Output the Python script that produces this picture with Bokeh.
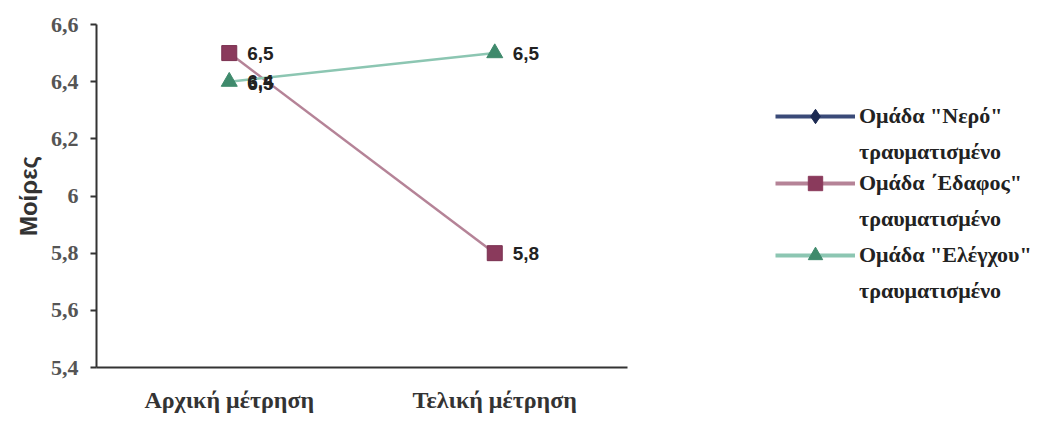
from bokeh.plotting import figure
from bokeh.layouts import row
from bokeh.models import (FactorRange, Range1d, FixedTicker, CustomJSTickFormatter,
                          Legend, LegendItem, ColumnDataSource)
from bokeh.core.properties import value
from bokeh.embed import file_html
from bokeh.resources import INLINE

categories = ["Αρχική μέτρηση", "Τελική μέτρηση"]
nero = [float("nan"), float("nan")]          # series not visible in the chart
edafos = [6.5, 5.8]
elegxou = [6.4, 6.5]
nero_stray_label = ["6,5", ""]               # stray label shown at control's first point
y_ticks = [5.4, 5.6, 5.8, 6.0, 6.2, 6.4, 6.6]
series_first = ['Ομάδα "Νερό"', 'Ομάδα ΄Εδαφος"', 'Ομάδα "Ελέγχου"']
series_second = ['τραυματισμένο', 'τραυματισμένο', 'τραυματισμένο']
line_colors = ["#3a4a78", "#b58397", "#8cc6b2"]
marker_colors = ["#1c2a52", "#8a3a5c", "#3f8a6c"]
markers = ["diamond", "square", "triangle"]

def fmt(v):
    return ("%.1f" % v).replace(".", ",")

H = 415
p = figure(x_range=FactorRange(factors=categories, range_padding=0),
           y_range=Range1d(5.4, 6.6),
           width=700, height=H, output_backend="svg", toolbar_location=None,
           min_border_left=96, min_border_right=73, min_border_top=24,
           min_border_bottom=H - 372, outline_line_color=None)
p.grid.visible = False

p.yaxis.ticker = FixedTicker(ticks=y_ticks)
p.yaxis.formatter = CustomJSTickFormatter(code="""
const r = Math.round(tick*10)/10;
if (Math.abs(r - Math.round(r)) < 1e-9) return String(Math.round(r));
return r.toFixed(1).replace('.', ',');
""")
p.yaxis.axis_label = "Μοίρες"
p.yaxis.axis_label_text_font = "Liberation Sans"
p.yaxis.axis_label_text_font_style = "bold"
p.yaxis.axis_label_text_font_size = "24px"
p.yaxis.axis_label_text_color = "#333333"
p.yaxis.axis_label_standoff = 6
for ax in (p.xaxis, p.yaxis):
    ax.axis_line_color = "#333333"
    ax.axis_line_width = 2
    ax.major_label_text_font = "Liberation Serif"
    ax.major_label_text_font_style = "bold"
    ax.minor_tick_line_color = None
p.yaxis.major_label_text_font_size = "22px"
p.yaxis.major_label_text_color = "#555555"
p.xaxis.major_label_text_font_size = "24px"
p.xaxis.major_label_text_color = "#333333"
p.yaxis.major_tick_in = 0
p.yaxis.major_tick_out = 6
p.yaxis.major_tick_line_color = "#333333"
p.yaxis.major_tick_line_width = 2
p.yaxis.major_label_standoff = 12
p.xaxis.major_tick_line_color = None
p.xaxis.major_label_standoff = 13

src_n = ColumnDataSource(dict(x=categories, y=nero))
src_e = ColumnDataSource(dict(x=categories, y=edafos, lab=[fmt(v) for v in edafos]))
src_c = ColumnDataSource(dict(x=categories, y=elegxou, lab=[fmt(v) for v in elegxou],
                              stray=nero_stray_label))

p.line("x", "y", source=src_n, line_color=line_colors[0], line_width=3)
p.scatter("x", "y", source=src_n, marker=markers[0], size=16,
          fill_color=marker_colors[0], line_color=marker_colors[0])
p.line("x", "y", source=src_e, line_color=line_colors[1], line_width=2.5)
p.scatter("x", "y", source=src_e, marker=markers[1], size=15,
          fill_color=marker_colors[1], line_color="#7a3050")
p.line("x", "y", source=src_c, line_color=line_colors[2], line_width=2.5)
p.scatter("x", "y", source=src_c, marker=markers[2], size=16,
          fill_color=marker_colors[2], line_color=marker_colors[2])

lab_kw = dict(text_font=value("Liberation Sans"), text_font_style="bold",
              text_font_size="19px", text_color="#222222",
              text_baseline="middle", x_offset=18)
p.text("x", "y", text="lab", source=src_e, **lab_kw)
p.text("x", "y", text="lab", source=src_c, **lab_kw)
p.text("x", "y", text="stray", source=src_c, y_offset=2, **lab_kw)

# legend panel
q = figure(width=336, height=H, x_range=(0, 1), y_range=(0, 1),
           output_backend="svg", toolbar_location=None,
           x_axis_location=None, y_axis_location=None,
           min_border=0, outline_line_color=None)
q.grid.visible = False

legend_bottoms = [H - 218, H - 285, H - 357]
for i in range(3):
    ln = q.line(x=[float("nan")], y=[float("nan")], line_color=line_colors[i], line_width=4)
    mk = q.scatter(x=[float("nan")], y=[float("nan")], marker=markers[i], size=14,
                   fill_color=marker_colors[i], line_color=marker_colors[i])
    blank = q.line(x=[float("nan")], y=[float("nan")], line_alpha=0)
    lg = Legend(items=[LegendItem(label=series_first[i], renderers=[ln, mk]),
                       LegendItem(label=series_second[i], renderers=[blank])],
                location=(75, legend_bottoms[i]), glyph_width=80, glyph_height=36,
                label_height=20,
                label_text_font="Liberation Serif", label_text_font_style="bold",
                label_text_font_size="22px", label_text_color="#222222",
                label_standoff=4, spacing=-11, padding=0, margin=0,
                border_line_color=None, background_fill_alpha=0)
    q.add_layout(lg, "center")

open("out.html", "w").write(file_html(row(p, q), INLINE))
